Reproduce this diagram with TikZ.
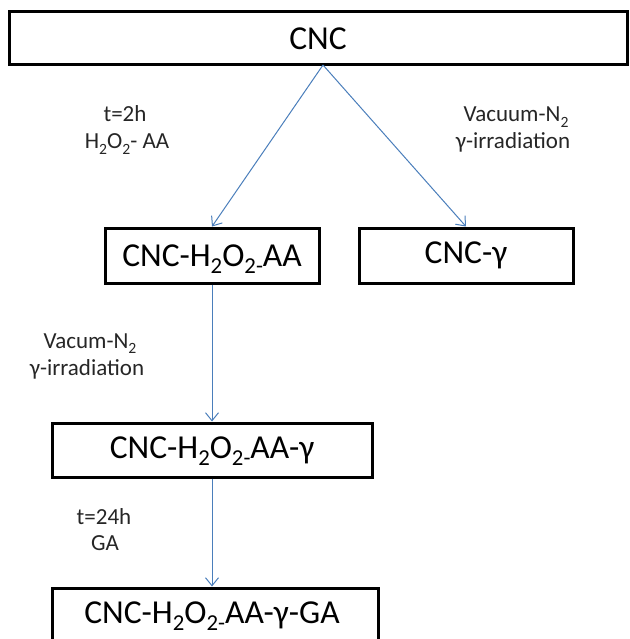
\documentclass[tikz,border=0pt]{standalone}
\usepackage{fontspec}
\setmainfont{Carlito}
\usetikzlibrary{arrows.meta}
\definecolor{arrowblue}{HTML}{4A7EBB}
\newcommand\sbs[1]{\raisebox{-0.22em}[\height][0pt]{\scalebox{0.68}{#1}}}
\begin{document}
\begin{tikzpicture}[x=1pt,y=-1pt,
  box/.style={draw=black,line width=3pt,inner sep=0pt,fill=white,
    font=\fontsize{33.5}{38}\selectfont},
  lbl/.style={anchor=base,inner sep=0pt,font=\fontsize{23}{27}\selectfont,text=black!85},
  conn/.style={draw=arrowblue,line width=1pt,-{Straight Barb[length=8pt,width=13pt]}}]
\useasboundingbox (0,0) rectangle (629,639);
\clip (0,0) rectangle (629,639);
\node[box,minimum width=618pt,minimum height=53pt] (cnc) at (318,38.5) {CNC};
\node[box,minimum width=214pt,minimum height=55pt] (aa) at (212,255.5) {CNC-H\sbs{2}O\sbs{2-}AA};
\node[box,minimum width=214pt,minimum height=55pt] (gam) at (466,255.5) {CNC-γ};
\node[box,minimum width=320pt,minimum height=54pt] (aag) at (212,450) {CNC-H\sbs{2}O\sbs{2-}AA-γ};
\node[box,minimum width=326pt,minimum height=70pt] (aagga) at (215,623) {};
\node[inner sep=0pt,font=\fontsize{33.5}{38}\selectfont] (aaggat) at (212,615) {CNC-H\sbs{2}O\sbs{2-}AA-γ-GA};
\coordinate (apex) at (323,65);
\draw[conn] (apex) -- (aa.north);
\draw[conn] (apex) -- (gam.north);
\draw[conn] (aa.south) -- (aag.north);
\draw[conn] (aag.south) -- (aag.south |- aagga.north);
\node[lbl] (l1a) at (125,122) {t=2h};
\node[lbl] (l1b) at (127,149) {H\sbs{2}O\sbs{2}- AA};
\node[lbl] (l2a) at (516,122) {Vacuum-N\sbs{2}};
\node[lbl] (l2b) at (513,149) {γ-irradiation};
\node[lbl] (l3a) at (90,348) {Vacum-N\sbs{2}};
\node[lbl] (l3b) at (87,375) {γ-irradiation};
\node[lbl] (l4a) at (104,524) {t=24h};
\node[lbl] (l4b) at (105,550) {GA};
\end{tikzpicture}
\end{document}
